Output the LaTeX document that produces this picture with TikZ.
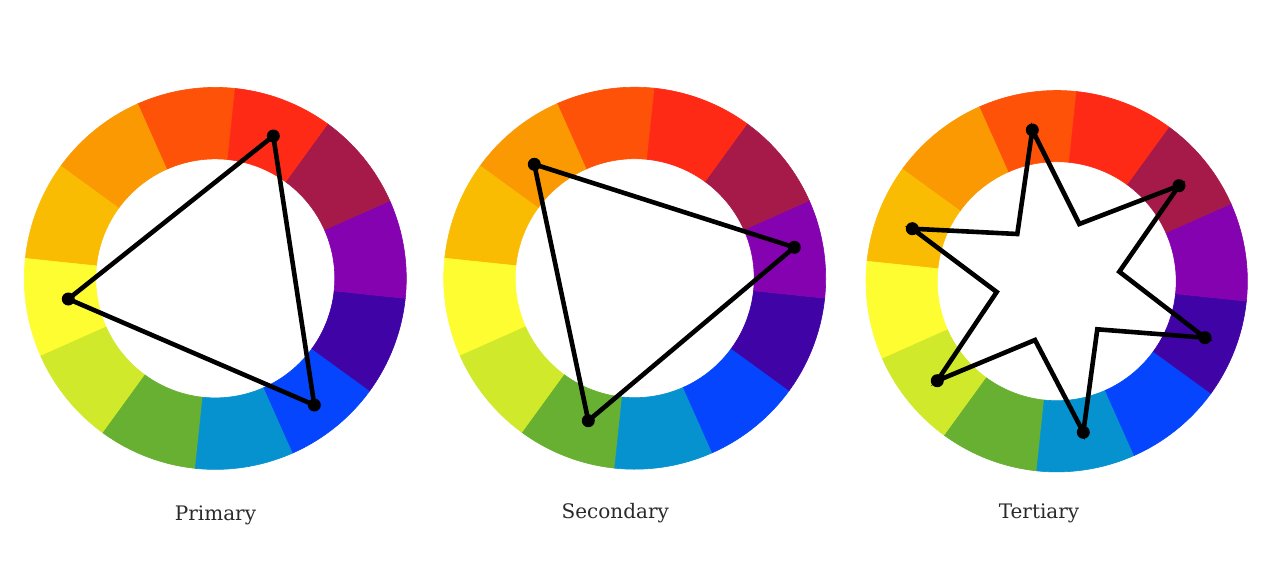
\documentclass[tikz,border=0pt]{standalone}
\usepackage{fontspec}
\setmainfont{DejaVu Serif}
\definecolor{cOR}{HTML}{FF5209}
\definecolor{cO}{HTML}{FB9902}
\definecolor{cYO}{HTML}{FABC03}
\definecolor{cY}{HTML}{FEFD32}
\definecolor{cYG}{HTML}{D0E92B}
\definecolor{cG}{HTML}{67B032}
\definecolor{cC}{HTML}{0592CF}
\definecolor{cB}{HTML}{0645FE}
\definecolor{cI}{HTML}{3F03A6}
\definecolor{cP}{HTML}{8502B0}
\definecolor{cCr}{HTML}{A61A4A}
\definecolor{cR}{HTML}{FF2A15}
\definecolor{labelgray}{HTML}{2A2A2A}
\tikzset{
  dotnode/.style={circle,fill=black,inner sep=0pt,minimum size=13pt},
  linkline/.style={line width=4.6pt,black,line join=miter},
  wheellabel/.style={anchor=base,text=labelgray,font=\fontsize{20}{24}\selectfont},
}
\newcommand{\colorwheel}[2]{%
  \begin{scope}[shift={#1}]
    \foreach \col [count=\i from 0] in {cOR,cO,cYO,cY,cYG,cG,cC,cB,cI,cP,cCr,cR}{
      \pgfmathsetmacro{\aa}{84+30*\i}
      \pgfmathsetmacro{\ab}{114+30*\i}
      \filldraw[fill=\col,draw=\col,line width=0.6pt]
        (\aa:#2) arc[start angle=\aa,end angle=\ab,radius=#2]
        -- (\ab:119.5) arc[start angle=\ab,end angle=\aa,radius=119.5] -- cycle;
    }
  \end{scope}}
\begin{document}
\begin{tikzpicture}[x=1pt,y=1pt]
\useasboundingbox (0,0) rectangle (1267,-584);
\fill[white] (0,0) rectangle (1267,-584);
% wheels
\colorwheel{(215.3,-278.4)}{191}
\colorwheel{(634.7,-278.2)}{191}
\colorwheel{(1056.7,-281.2)}{190.7}
% Primary
\node[dotnode] (p1) at (273.3,-136) {};
\node[dotnode] (p2) at (314.3,-405) {};
\node[dotnode] (p3) at (68.3,-299) {};
\draw[linkline] (p1.center) -- (p2.center) -- (p3.center) -- cycle;
% Secondary
\node[dotnode] (s1) at (534.3,-164.3) {};
\node[dotnode] (s2) at (794.3,-247.3) {};
\node[dotnode] (s3) at (588.3,-420.7) {};
\draw[linkline] (s1.center) -- (s2.center) -- (s3.center) -- cycle;
% Tertiary
\coordinate (i1) at (1017.3,-234);
\coordinate (i2) at (1079.3,-224);
\coordinate (i3) at (1119.3,-271.7);
\coordinate (i4) at (1097.3,-329.3);
\coordinate (i5) at (1035,-340);
\coordinate (i6) at (996.7,-292);
\node[dotnode] (t1) at (1032.3,-130) {};
\node[dotnode] (t2) at (1179,-185.7) {};
\node[dotnode] (t3) at (1205,-337.7) {};
\node[dotnode] (t4) at (1083.3,-432.3) {};
\node[dotnode] (t5) at (937.3,-380.7) {};
\node[dotnode] (t6) at (912.3,-228.7) {};
\draw[linkline] (t1.center) -- (i2) -- (t2.center) -- (i3) -- (t3.center) -- (i4)
  -- (t4.center) -- (i5) -- (t5.center) -- (i6) -- (t6.center) -- (i1) -- cycle;
% labels
\node[wheellabel] (lp) at (215.5,-520) {Primary};
\node[wheellabel] (ls) at (615.3,-518) {Secondary};
\node[wheellabel] (lt) at (1039,-518) {Tertiary};
\end{tikzpicture}
\end{document}
